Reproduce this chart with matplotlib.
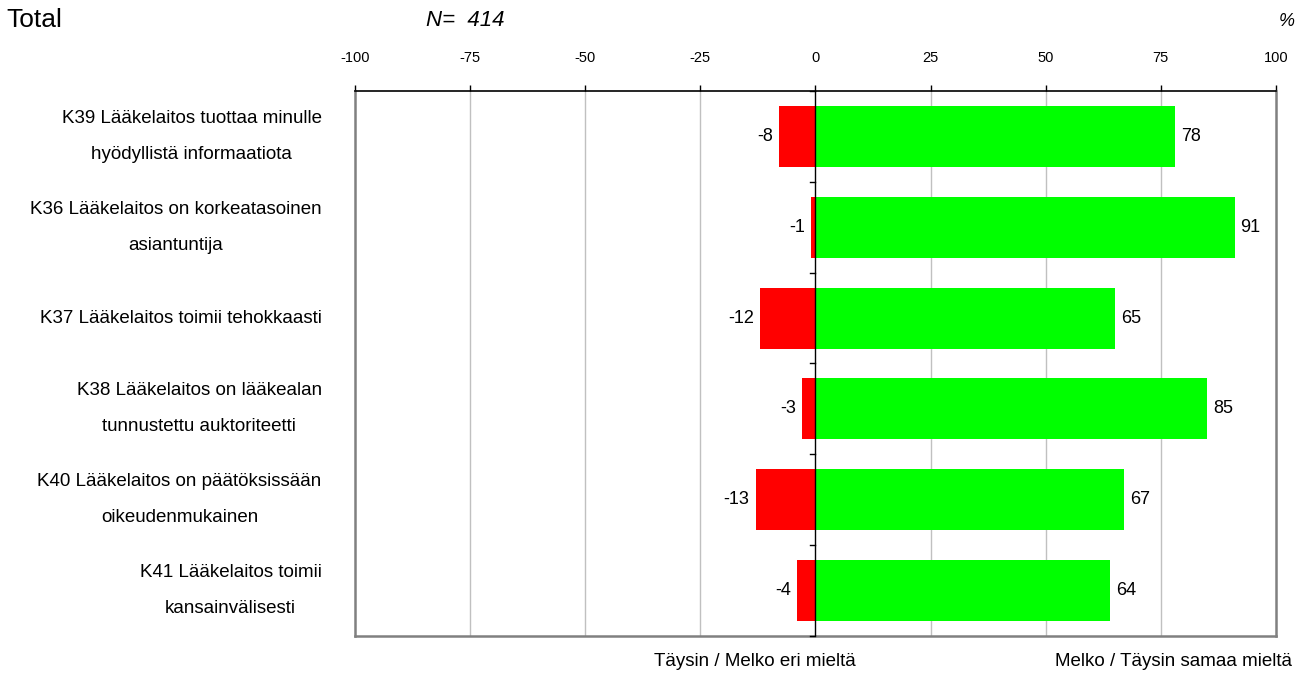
import matplotlib
matplotlib.use("Agg")
import matplotlib.pyplot as plt
import numpy as np

plt.rcParams['font.family'] = ['Liberation Sans', 'DejaVu Sans']

categories = [
    "K39 Lääkelaitos tuottaa minulle\nhyödyllistä informaatiota",
    "K36 Lääkelaitos on korkeatasoinen\nasiantuntija",
    "K37 Lääkelaitos toimii tehokkaasti",
    "K38 Lääkelaitos on lääkealan\ntunnustettu auktoriteetti",
    "K40 Lääkelaitos on päätöksissään\noikeudenmukainen",
    "K41 Lääkelaitos toimii\nkansainvälisesti",
]
disagree = [-8, -1, -12, -3, -13, -4]
agree = [78, 91, 65, 85, 67, 64]
xticks = [-100, -75, -50, -25, 0, 25, 50, 75, 100]

fig = plt.figure(figsize=(13.08, 6.74), dpi=100)
ax = fig.add_axes([0.2714, 0.0564, 0.7041, 0.8086])

y = np.arange(len(categories))
h = 0.67
ax.barh(y, disagree, height=h, color='#ff0000', zorder=3)
ax.barh(y, agree, height=h, color='#00ff00', zorder=3)

for yi, v in zip(y, disagree):
    ax.text(v - 1.3, yi, f"{v}", ha='right', va='center', fontsize=13, color='black', zorder=4)
for yi, v in zip(y, agree):
    ax.text(v + 1.3, yi, f"{v}", ha='left', va='center', fontsize=13, color='black', zorder=4)

ax.set_xlim(-100, 100)
ax.set_ylim(len(categories) - 0.5, -0.5)

ax.xaxis.tick_top()
ax.set_xticks(xticks)
ax.set_xticklabels([str(t) for t in xticks])
ax.tick_params(axis='x', direction='out', length=4, pad=15, labelsize=10.5, color='black', width=1)

ax.set_yticks(y)
ax.set_yticklabels(categories, fontsize=13.5, multialignment='center', linespacing=2.45, va='center')
ax.tick_params(axis='y', length=0, pad=24)

# gridlines
for t in xticks[1:-1]:
    if t != 0:
        ax.axvline(t, color='#c0c0c0', lw=1, zorder=1)
ax.axvline(0, color='black', lw=1, zorder=5)

# small tick marks at category boundaries on zero line
for b in np.arange(-0.5, len(categories), 1.0):
    ax.plot([-1.1, 0], [b, b], color='black', lw=1, zorder=5, clip_on=False)

for side in ['left', 'right', 'bottom']:
    ax.spines[side].set_color('#808080')
    ax.spines[side].set_linewidth(1.8)
ax.spines['top'].set_color('black')
ax.spines['top'].set_linewidth(1.2)

fig.text(6 / 1308, 1 - 20 / 674, "Total", fontsize=19, ha='left', va='center')
fig.text(426 / 1308, 1 - 20 / 674, "N=  414", fontsize=16, style='italic', ha='left', va='center')
fig.text(1295 / 1308, 1 - 21 / 674, "%", fontsize=13, style='italic', ha='right', va='center')
fig.text(755 / 1308, 1 - 662 / 674, "Täysin / Melko eri mieltä", fontsize=13.5, ha='center', va='center')
fig.text(1292 / 1308, 1 - 662 / 674, "Melko / Täysin samaa mieltä", fontsize=13.5, ha='right', va='center')

fig.savefig("out.png", dpi=100)
